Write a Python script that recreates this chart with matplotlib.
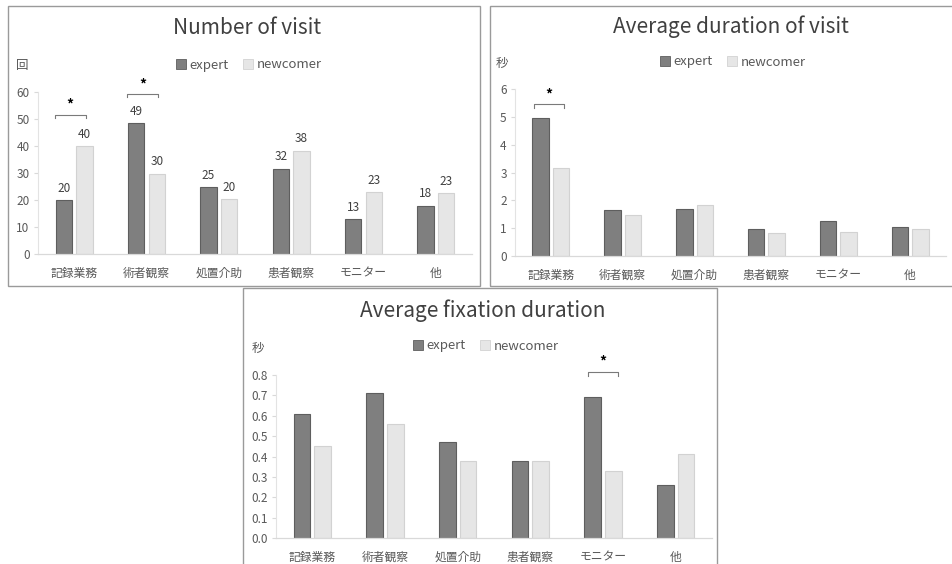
import numpy as np
import matplotlib
matplotlib.use('Agg')
import matplotlib.pyplot as plt
from matplotlib.patches import Rectangle, Patch

plt.rcParams['font.family'] = ['Noto Sans CJK JP', 'DejaVu Sans']

categories = ['記録業務', '術者観察', '処置介助', '患者観察', 'モニター', '他']
series_names = ['expert', 'newcomer']

# Number of visit
visit_expert = [20.0, 48.5, 24.8, 31.6, 12.8, 17.9]
visit_newcomer = [39.9, 29.7, 20.2, 38.3, 22.8, 22.5]
visit_expert_labels = ['20', '49', '25', '32', '13', '18']
visit_newcomer_labels = ['40', '30', '20', '38', '23', '23']

# Average duration of visit (sec)
dur_expert = [4.96, 1.64, 1.68, 0.97, 1.26, 1.05]
dur_newcomer = [3.15, 1.47, 1.82, 0.81, 0.87, 0.97]

# Average fixation duration (sec)
fix_expert = [0.61, 0.71, 0.47, 0.38, 0.69, 0.26]
fix_newcomer = [0.45, 0.56, 0.38, 0.38, 0.33, 0.41]

W, H = 953, 564
DARK = '#7f7f7f'
DARK_EDGE = '#5e5e5e'
LIGHT = '#e6e6e6'
LIGHT_EDGE = '#d2d2d2'
TXT = '#595959'

fig = plt.figure(figsize=(W / 100, H / 100), dpi=100)
fig.patch.set_facecolor('white')


def fx(x):
    return x / W


def fy(y):
    return 1 - y / H


def box(x0, y0, x1, y1):
    fig.patches.append(Rectangle((fx(x0), fy(y1)), fx(x1) - fx(x0), fy(y0) - fy(y1),
                                 transform=fig.transFigure, fill=False,
                                 edgecolor='#9a9a9a', lw=1.0, zorder=0))


def panel(x0, x1, ytop, ybot, exp, new, ymax, yticks, fmt, title, tx, ty, lx, ly, unit, ux, uy):
    ax = fig.add_axes([fx(x0), fy(ybot), fx(x1) - fx(x0), fy(ytop) - fy(ybot)])
    x = np.arange(len(categories))
    w = 0.23
    off = 0.143
    ax.bar(x - off, exp, w, color=DARK, edgecolor=DARK_EDGE, lw=0.8, label=series_names[0])
    ax.bar(x + off, new, w, color=LIGHT, edgecolor=LIGHT_EDGE, lw=0.8, label=series_names[1])
    ax.set_xlim(-0.5, len(categories) - 0.5)
    ax.set_ylim(0, ymax)
    ax.set_yticks(yticks)
    ax.set_yticklabels([fmt % v for v in yticks])
    ax.set_xticks(x)
    ax.set_xticklabels(categories, fontsize=8.5, color=TXT)
    ax.tick_params(axis='x', length=0, pad=9)
    ax.tick_params(axis='y', length=3, color='#d9d9d9', labelsize=8.5, labelcolor=TXT, pad=3)
    for s in ['top', 'right']:
        ax.spines[s].set_visible(False)
    ax.spines['left'].set_color('#e3e3e3')
    ax.spines['bottom'].set_color('#d9d9d9')
    ax.spines['left'].set_linewidth(0.8)
    ax.spines['bottom'].set_linewidth(0.9)
    fig.text(fx(tx), fy(ty), title, ha='center', va='center', fontsize=15, color='#404040')
    fig.text(fx(ux), fy(uy), unit, ha='center', va='center', fontsize=9, color=TXT)
    handles = [Patch(facecolor=DARK, edgecolor=DARK_EDGE, lw=0.6),
               Patch(facecolor=LIGHT, edgecolor=LIGHT_EDGE, lw=0.6)]
    ax.legend(handles, series_names, loc='center', bbox_to_anchor=(fx(lx), fy(ly)),
              bbox_transform=fig.transFigure, ncol=2, frameon=False, fontsize=9.5,
              handlelength=0.75, handleheight=0.75, handletextpad=0.3, columnspacing=1.1,
              labelcolor=TXT)
    return ax


def bracket(ax, i, left, right, y, ytick, ystar):
    xs = [i + left, i + left, i + right, i + right]
    ys = [ytick, y, y, ytick]
    ax.plot(xs, ys, color='#7a7a7a', lw=0.8, clip_on=False)
    ax.text(i + (left + right) / 2, ystar, '*', ha='center', va='center', fontsize=10,
            fontweight='bold', color='black', clip_on=False)


box(8, 6, 480, 286)
box(490, 6, 960, 286)
box(243, 288, 717, 570)

ax1 = panel(38, 472, 92, 254, visit_expert, visit_newcomer, 60, [0, 10, 20, 30, 40, 50, 60], '%d',
            'Number of visit', 247, 28, 249, 65, '回', 22, 65)
xc = np.arange(len(categories))
for i in range(len(categories)):
    ax1.text(xc[i] - 0.143, visit_expert[i] + 2.0, visit_expert_labels[i], ha='center', va='bottom',
             fontsize=8.5, color='#404040')
    ax1.text(xc[i] + 0.143, visit_newcomer[i] + 2.0, visit_newcomer_labels[i], ha='center', va='bottom',
             fontsize=8.5, color='#404040')
bracket(ax1, 0, -0.27, 0.16, 51.6, 50.3, 55.5)
bracket(ax1, 1, -0.27, 0.16, 59.3, 58.0, 62.6)

ax2 = panel(515, 946, 89, 256, dur_expert, dur_newcomer, 6, [0, 1, 2, 3, 4, 5, 6], '%d',
            'Average duration of visit', 731, 27, 733, 62, '秒', 502, 63)
bracket(ax2, 0, -0.24, 0.18, 5.45, 5.3, 5.8)

ax3 = panel(276, 712, 375, 538, fix_expert, fix_newcomer, 0.8, [0, 0.1, 0.2, 0.3, 0.4, 0.5, 0.6, 0.7, 0.8], '%.1f',
            'Average fixation duration', 483, 311, 486, 346, '秒', 258, 348)
bracket(ax3, 4, -0.21, 0.21, 0.815, 0.797, 0.865)

fig.savefig('out.png', dpi=100)
